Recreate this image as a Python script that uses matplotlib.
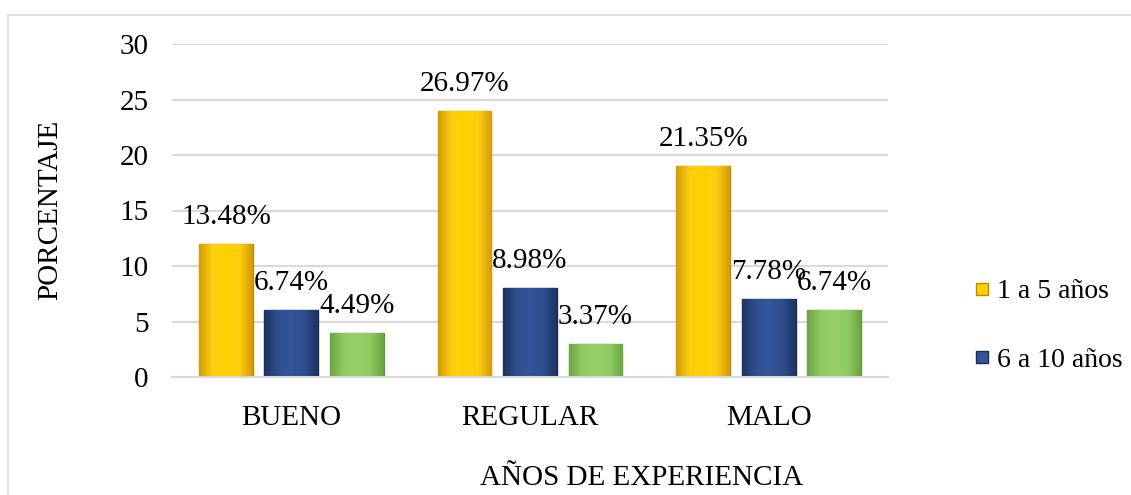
import matplotlib
matplotlib.use("Agg")
import matplotlib.pyplot as plt
from matplotlib.lines import Line2D
from matplotlib.patches import Rectangle
from matplotlib.colors import LinearSegmentedColormap
import numpy as np

categories = ["BUENO", "REGULAR", "MALO"]
series_names = ["1 a 5 años", "6 a 10 años"]
vals_1a5 = [12, 24, 19]
vals_6a10 = [6, 8, 7]
vals_more = [4, 3, 6]
labels_1a5 = ["13.48%", "26.97%", "21.35%"]
labels_6a10 = ["6.74%", "8.98%", "7.78%"]
labels_more = ["4.49%", "3.37%", "6.74%"]
yticks = [0, 5, 10, 15, 20, 25, 30]

plt.rcParams['font.family'] = ['Liberation Serif', 'DejaVu Serif']
FS = 21

W, H = 1131, 495
fig = plt.figure(figsize=(W / 100, H / 100), dpi=100)

# outer chart border
fig.patches.append(Rectangle((8 / W, -0.1), 1.2, 1 - 15 / H + 0.1, transform=fig.transFigure,
                             fill=False, edgecolor="#d9d9d9", linewidth=1.2, zorder=0))

ax = fig.add_axes([172 / W, 1 - 377 / H, 716 / W, 333 / H])
ax.set_xlim(-0.5, 2.5)
ax.set_ylim(0, 30)
ax.set_yticks(yticks)
ax.grid(axis="y", color="#d9d9d9", linewidth=1.5, zorder=0)
ax.set_axisbelow(True)
for s in ["top", "right", "left"]:
    ax.spines[s].set_visible(False)
ax.spines["bottom"].set_color("#d9d9d9")
ax.spines["bottom"].set_linewidth(1.5)
ax.tick_params(axis="both", length=0, labelsize=FS)
ax.tick_params(axis="y", pad=17)
ax.tick_params(axis="x", pad=20)

x = np.arange(len(categories))
w = 0.225
off = 0.274
series = [
    (vals_1a5, labels_1a5, ["#D49C06", "#FFCF10", "#FFD000", "#FFCF10", "#D49C06"], "#B98A08"),
    (vals_6a10, labels_6a10, ["#1D3363", "#2F4E8E", "#34559A", "#2F4E8E", "#1D3363"], "#1A2C55"),
    (vals_more, labels_more, ["#6DA444", "#8FCB62", "#98D06C", "#8FCB62", "#6DA444"], "#5E9A3A"),
]
handles = []
for i, (vals, labs, grad, ec) in enumerate(series):
    xs = x + (i - 1) * off
    cmap = LinearSegmentedColormap.from_list("g%d" % i, grad)
    bars = ax.bar(xs, vals, width=w, color=grad[2], edgecolor=ec, linewidth=1.0, zorder=2)
    for b, lab in zip(bars, labs):
        x0, x1 = b.get_x(), b.get_x() + b.get_width()
        im = ax.imshow(np.linspace(0, 1, 64).reshape(1, -1), cmap=cmap, aspect="auto",
                       extent=[x0, x1, 0, b.get_height()], zorder=2.5, interpolation="bilinear")
        im.set_clip_path(b)
        ax.annotate(lab, (b.get_x() + b.get_width() / 2, b.get_height()),
                    xytext=(0, 19.5), textcoords="offset points",
                    ha="center", va="center", fontsize=FS, zorder=3)
    handles.append(Line2D([], [], marker="s", linestyle="none", markersize=9,
                          markerfacecolor=grad[2], markeredgecolor=ec))

ax.set_xlim(-0.5, 2.5)
ax.set_ylim(0, 30)
ax.set_xticks(x)
ax.set_xticklabels(categories)

fig.text(50 / W, 1 - 210 / H, "PORCENTAJE", rotation=90, ha="center", va="center", fontsize=FS)
fig.text(642 / W, 1 - 478 / H, "AÑOS DE EXPERIENCIA", ha="center", va="center", fontsize=FS)

fig.legend(handles[:2], series_names, loc="upper left",
           bbox_to_anchor=(975 / W, 1 - 279 / H), bbox_transform=fig.transFigure,
           frameon=False, fontsize=FS - 1, handlelength=0.5, handletextpad=0.3,
           borderpad=0, borderaxespad=0, labelspacing=1.55)

fig.savefig("out.png", dpi=100)
